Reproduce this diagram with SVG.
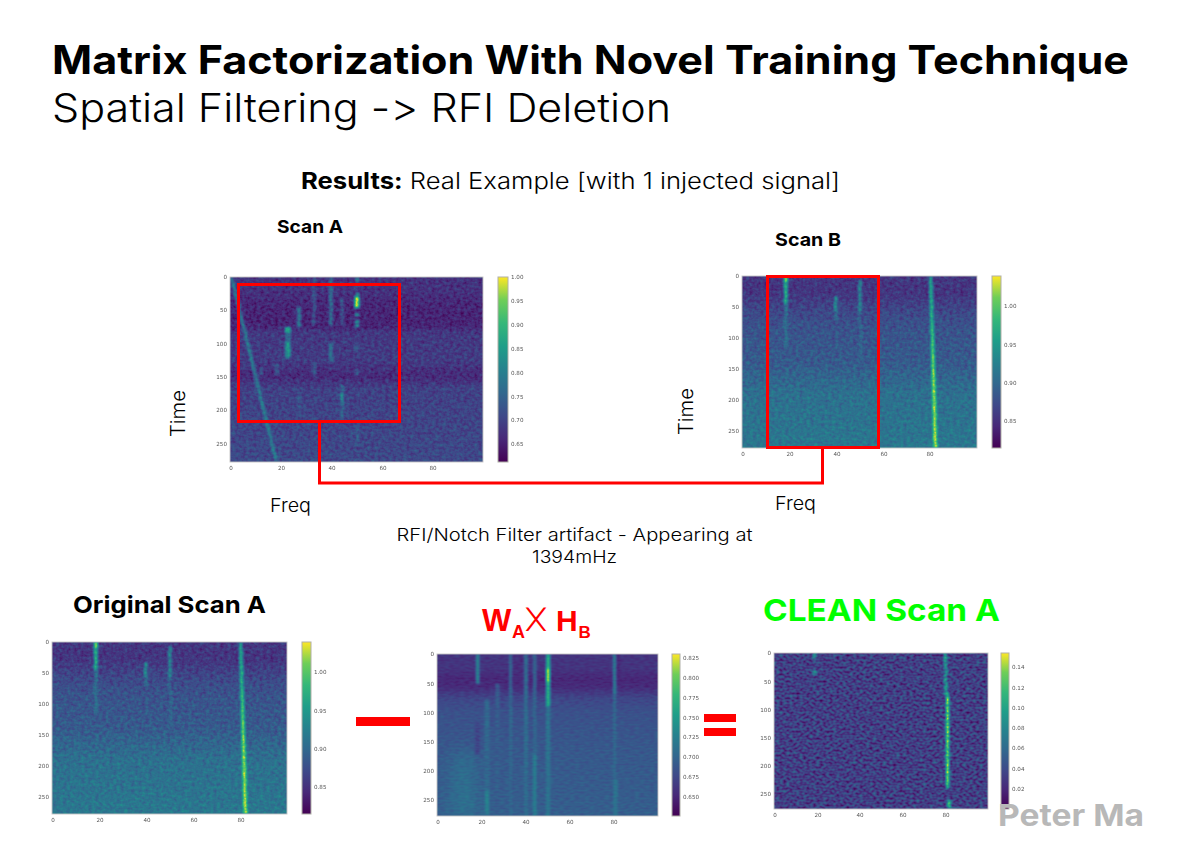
<svg xmlns="http://www.w3.org/2000/svg" xmlns:xlink="http://www.w3.org/1999/xlink" width="1184" height="846" viewBox="0 0 1184 846">
<style>
text{font-family:"Inter","Liberation Sans",sans-serif;fill:#000;font-variant-ligatures:none;font-feature-settings:"calt" 0,"liga" 0}
.b{font-weight:700}
.n{font-weight:300}
.t text{font-family:"DejaVu Sans","Liberation Sans",sans-serif;font-size:5.6px;fill:#555}
.xt{text-anchor:middle}
.yt{text-anchor:end}
.frame{fill:none;stroke:#c4c4c4;stroke-width:.9}
.cb{fill:url(#viridis);stroke:#b0b0a8;stroke-width:1}
.red{fill:none;stroke:#f00;stroke-width:3}
.bar{fill:#f00}
.wh{font-family:"Liberation Sans",Arial,sans-serif;font-weight:700;fill:#f00}
</style>
<defs>
<linearGradient id="viridis" x1="0" y1="1" x2="0" y2="0">
<stop offset="0" stop-color="#440154"/><stop offset=".125" stop-color="#482878"/><stop offset=".25" stop-color="#3e4989"/><stop offset=".375" stop-color="#31688e"/><stop offset=".5" stop-color="#26828e"/><stop offset=".625" stop-color="#1f9e89"/><stop offset=".75" stop-color="#35b779"/><stop offset=".875" stop-color="#6ece58"/><stop offset="1" stop-color="#fde725"/>
</linearGradient>
<linearGradient id="gA" x1="0" y1="0" x2="0" y2="1">
<stop offset="0" stop-color="#2b2b2b"/><stop offset=".08" stop-color="#292929"/><stop offset=".14" stop-color="#202020"/><stop offset=".22" stop-color="#1d1d1d"/><stop offset=".27" stop-color="#1f1f1f"/><stop offset=".3" stop-color="#303030"/><stop offset=".45" stop-color="#333"/><stop offset=".49" stop-color="#2b2b2b"/><stop offset=".53" stop-color="#222"/><stop offset=".57" stop-color="#2c2c2c"/><stop offset=".6" stop-color="#383838"/><stop offset="1" stop-color="#404040"/>
</linearGradient>
<linearGradient id="gB" x1="0" y1="0" x2="0" y2="1">
<stop offset="0" stop-color="#2f2f2f"/><stop offset=".1" stop-color="#2d2d2d"/><stop offset=".2" stop-color="#3e3e3e"/><stop offset=".3" stop-color="#4a4a4a"/><stop offset=".5" stop-color="#525252"/><stop offset=".68" stop-color="#696969"/><stop offset="1" stop-color="#727272"/>
</linearGradient>
<linearGradient id="gW" x1="0" y1="0" x2="0" y2="1">
<stop offset="0" stop-color="#2c2c2c"/><stop offset=".09" stop-color="#2c2c2c"/><stop offset=".15" stop-color="#202020"/><stop offset=".2" stop-color="#222"/><stop offset=".27" stop-color="#3c3c3c"/><stop offset=".36" stop-color="#484848"/><stop offset=".6" stop-color="#505050"/><stop offset="1" stop-color="#565656"/>
</linearGradient>
<linearGradient id="gS" x1="0" y1="0" x2="0" y2="1">
<stop offset="0" stop-color="#a0a0a0"/><stop offset=".3" stop-color="#c0c0c0"/><stop offset=".55" stop-color="#ececec"/><stop offset="1" stop-color="#f4f4f4"/>
</linearGradient>
<filter id="soft" x="-5%" y="-20%" width="110%" height="140%"><feGaussianBlur stdDeviation=".22"/></filter>
<filter id="bl" x="-5%" y="-5%" width="110%" height="110%" color-interpolation-filters="sRGB"><feGaussianBlur stdDeviation="1"/></filter>
<filter id="bb" x="-50%" y="-50%" width="200%" height="200%" color-interpolation-filters="sRGB"><feGaussianBlur stdDeviation="8"/></filter>
<filter id="fScan" x="0" y="0" width="1" height="1" color-interpolation-filters="sRGB">
<feTurbulence type="fractalNoise" baseFrequency=".28 .34" numOctaves="2" seed="3" result="n"/>
<feColorMatrix in="n" type="matrix" values="1 0 0 0 0 1 0 0 0 0 1 0 0 0 0 0 0 0 0 1" result="g"/>
<feComposite in="SourceGraphic" in2="g" operator="arithmetic" k1="0" k2="1" k3=".3" k4="-.15"/>
<feGaussianBlur stdDeviation=".65"/>
<feComponentTransfer>
<feFuncR type="table" tableValues=".267 .282 .243 .192 .149 .122 .208 .431 .992"/>
<feFuncG type="table" tableValues=".004 .157 .286 .408 .510 .620 .718 .808 .906"/>
<feFuncB type="table" tableValues=".329 .471 .537 .557 .557 .537 .475 .345 .145"/>
</feComponentTransfer>
</filter>
<filter id="fWH" x="0" y="0" width="1" height="1" color-interpolation-filters="sRGB">
<feTurbulence type="fractalNoise" baseFrequency=".2 .5" numOctaves="1" seed="9" result="n"/>
<feColorMatrix in="n" type="matrix" values="1 0 0 0 0 1 0 0 0 0 1 0 0 0 0 0 0 0 0 1" result="g"/>
<feComposite in="SourceGraphic" in2="g" operator="arithmetic" k1="0" k2="1" k3=".14" k4="-.07"/>
<feGaussianBlur stdDeviation=".6"/>
<feComponentTransfer>
<feFuncR type="table" tableValues=".267 .282 .243 .192 .149 .122 .208 .431 .992"/>
<feFuncG type="table" tableValues=".004 .157 .286 .408 .510 .620 .718 .808 .906"/>
<feFuncB type="table" tableValues=".329 .471 .537 .557 .557 .537 .475 .345 .145"/>
</feComponentTransfer>
</filter>
<filter id="fClean" x="0" y="0" width="1" height="1" color-interpolation-filters="sRGB">
<feTurbulence type="fractalNoise" baseFrequency=".3 .42" numOctaves="1" seed="7" result="n"/>
<feColorMatrix in="n" type="matrix" values="1 0 0 0 0 1 0 0 0 0 1 0 0 0 0 0 0 0 0 1" result="g"/>
<feComposite in="SourceGraphic" in2="g" operator="arithmetic" k1="0" k2="1" k3=".6" k4="-.3"/>
<feGaussianBlur stdDeviation=".55"/>
<feComponentTransfer>
<feFuncR type="table" tableValues=".267 .282 .243 .192 .149 .122 .208 .431 .992"/>
<feFuncG type="table" tableValues=".004 .157 .286 .408 .510 .620 .718 .808 .906"/>
<feFuncB type="table" tableValues=".329 .471 .537 .557 .557 .537 .475 .345 .145"/>
</feComponentTransfer>
</filter>
<g id="heatB" filter="url(#fScan)">
<rect x="742" y="276" width="235" height="172" fill="url(#gB)"/>
<g filter="url(#bl)">
<polygon points="929,276 932.4,276 937.5,448 933.5,448" fill="url(#gS)"/>
<rect x="783.8" y="276" width="4" height="6" fill="#e0e0e0"/>
<rect x="784" y="282" width="3.6" height="22" fill="#b5b5b5"/>
<rect x="784.5" y="304" width="3" height="44" fill="#707070"/>
<rect x="834" y="296" width="3.4" height="15" fill="#8c8c8c"/>
<rect x="834.5" y="311" width="3" height="10" fill="#666"/>
<rect x="858.5" y="280" width="3" height="32" fill="#8c8c8c"/>
<rect x="858.8" y="312" width="2.6" height="46" fill="#606060"/>
</g>
</g>
</defs>

<g id="title">
<text class="b" x="52" y="74" font-size="39" textLength="1077" lengthAdjust="spacingAndGlyphs">Matrix Factorization With Novel Training Technique</text>
<text class="n" x="52" y="122" font-size="39" textLength="619" lengthAdjust="spacingAndGlyphs">Spatial Filtering -&gt; RFI Deletion</text>
<text x="301" y="189" font-size="22.5" textLength="539" lengthAdjust="spacingAndGlyphs"><tspan class="b">Results:</tspan><tspan class="n"> Real Example [with 1 injected signal]</tspan></text>
</g>

<g id="scan-a">
<text class="b" x="277" y="233" font-size="18" textLength="66" lengthAdjust="spacingAndGlyphs">Scan A</text>
<g filter="url(#fScan)">
<rect x="230" y="277" width="253" height="185" fill="url(#gA)"/>
<g filter="url(#bl)">
<polygon points="230,277 233,277 278,462 275,462" fill="#808080"/>
<rect x="355.5" y="277" width="3" height="5" fill="#808080"/>
<rect x="356" y="282" width="2.4" height="11" fill="#404040"/>
<rect x="355.5" y="293" width="3.2" height="4" fill="#909090"/>
<rect x="354.6" y="297" width="4.8" height="11" fill="#ffffff"/>
<rect x="355" y="313.5" width="4" height="2.4" fill="#aaa"/>
<rect x="355" y="320.5" width="4" height="2.6" fill="#b0b0b0"/>
<rect x="355" y="324.5" width="4" height="2.6" fill="#b0b0b0"/>
<rect x="355.5" y="343" width="3" height="9" fill="#555"/>
<rect x="355.5" y="369" width="3" height="6" fill="#606060"/>
<rect x="355.5" y="425" width="3" height="20" fill="#555"/>
<rect x="312.5" y="277" width="3" height="49" fill="#505050"/>
<rect x="312.5" y="363" width="3" height="13" fill="#555"/>
<rect x="329" y="277" width="4" height="49" fill="#626262"/>
<rect x="329" y="343" width="4" height="19" fill="#666"/>
<rect x="340.5" y="298" width="3" height="27" fill="#525252"/>
<rect x="340.5" y="385" width="3" height="35" fill="#666"/>
<rect x="340.5" y="393" width="3.2" height="9" fill="#8c8c8c"/>
<rect x="297" y="307" width="4" height="21" fill="#6e6e6e"/>
<rect x="297.5" y="393" width="3" height="22" fill="#505050"/>
<rect x="285" y="327" width="5.4" height="6" fill="#b0b0b0"/>
<rect x="285.5" y="333" width="4.6" height="9" fill="#626262"/>
<rect x="285.3" y="342" width="5" height="16" fill="#a0a0a0"/>
<rect x="259.5" y="368" width="3" height="7" fill="#555"/>
<rect x="274.5" y="363" width="5" height="12" fill="#4a4a4a"/>
</g>
</g>
<rect class="frame" x="230" y="277" width="253" height="185"/>
<rect class="cb" x="498" y="277" width="10" height="185"/>
<g class="t" filter="url(#soft)">
<text class="xt" x="231" y="470">0</text><text class="xt" x="281.6" y="470">20</text><text class="xt" x="332" y="470">40</text><text class="xt" x="383" y="470">60</text><text class="xt" x="433" y="470">80</text>
<text class="yt" x="227" y="279">0</text><text class="yt" x="227" y="312">50</text><text class="yt" x="227" y="346">100</text><text class="yt" x="227" y="379">150</text><text class="yt" x="227" y="412">200</text><text class="yt" x="227" y="446">250</text>
<text x="511" y="279">1.00</text><text x="511" y="303">0.95</text><text x="511" y="327">0.90</text><text x="511" y="351">0.85</text><text x="511" y="375">0.80</text><text x="511" y="399">0.75</text><text x="511" y="422">0.70</text><text x="511" y="446">0.65</text>
</g>
<text class="n" transform="translate(185 437) rotate(-90)" font-size="20" textLength="47" lengthAdjust="spacingAndGlyphs">Time</text>
<text class="n" x="270" y="512" font-size="18.5" textLength="41" lengthAdjust="spacingAndGlyphs">Freq</text>
<rect class="red" x="238.5" y="284.5" width="161" height="137"/>
</g>

<g id="scan-b">
<text class="b" x="775" y="246" font-size="18" textLength="66" lengthAdjust="spacingAndGlyphs">Scan B</text>
<use href="#heatB" xlink:href="#heatB"/>
<rect class="frame" x="742" y="276" width="235" height="172"/>
<rect class="cb" x="992" y="276" width="9" height="172"/>
<g class="t" filter="url(#soft)">
<text class="xt" x="743" y="456">0</text><text class="xt" x="790" y="456">20</text><text class="xt" x="837" y="456">40</text><text class="xt" x="884" y="456">60</text><text class="xt" x="930" y="456">80</text>
<text class="yt" x="739" y="278">0</text><text class="yt" x="739" y="309">50</text><text class="yt" x="739" y="340">100</text><text class="yt" x="739" y="371">150</text><text class="yt" x="739" y="402">200</text><text class="yt" x="739" y="433">250</text>
<text x="1004" y="308">1.00</text><text x="1004" y="347">0.95</text><text x="1004" y="385">0.90</text><text x="1004" y="423">0.85</text>
</g>
<text class="n" transform="translate(693 435) rotate(-90)" font-size="20" textLength="47" lengthAdjust="spacingAndGlyphs">Time</text>
<text class="n" x="775" y="510" font-size="18.5" textLength="41" lengthAdjust="spacingAndGlyphs">Freq</text>
<rect class="red" x="767.5" y="276.5" width="111" height="171"/>
</g>

<g id="connectors">
<polyline class="red" points="319.5,422 319.5,483 822.5,483 822.5,448"/>
</g>

<g id="caption">
<text class="n" x="574.5" y="541" font-size="17.5" text-anchor="middle" textLength="356" lengthAdjust="spacingAndGlyphs">RFI/Notch Filter artifact - Appearing at</text>
<text class="n" x="574.5" y="563" font-size="17.5" text-anchor="middle" textLength="85" lengthAdjust="spacingAndGlyphs">1394mHz</text>
</g>

<g id="original-scan-a">
<text class="b" x="73" y="613" font-size="23.5" textLength="193" lengthAdjust="spacingAndGlyphs">Original Scan A</text>
<use href="#heatB" xlink:href="#heatB" transform="translate(-690 366)"/>
<rect class="frame" x="52" y="642" width="235" height="172"/>
<rect class="cb" x="302" y="642" width="9" height="172"/>
<g class="t" filter="url(#soft)">
<text class="xt" x="53" y="822">0</text><text class="xt" x="100" y="822">20</text><text class="xt" x="147" y="822">40</text><text class="xt" x="194" y="822">60</text><text class="xt" x="241" y="822">80</text>
<text class="yt" x="49" y="644">0</text><text class="yt" x="49" y="675">50</text><text class="yt" x="49" y="706">100</text><text class="yt" x="49" y="737">150</text><text class="yt" x="49" y="768">200</text><text class="yt" x="49" y="799">250</text>
<text x="314" y="674">1.00</text><text x="314" y="713">0.95</text><text x="314" y="751">0.90</text><text x="314" y="789">0.85</text>
</g>
</g>

<rect id="minus" class="bar" x="356" y="717" width="54" height="9"/>

<g id="wa-hb">
<text class="wh" font-size="31"><tspan x="482" y="631">W</tspan><tspan x="512" y="638" font-size="18">A</tspan></text>
<text x="527" y="626" font-size="20" textLength="18" lengthAdjust="spacingAndGlyphs" style="font-family:'DejaVu Sans',sans-serif;fill:#f00">╳</text>
<text class="wh" x="556" y="631" font-size="30">H</text>
<text class="wh" x="578.5" y="638" font-size="17">B</text>
<g filter="url(#fWH)">
<rect x="437" y="654" width="221" height="162" fill="url(#gW)"/>
<polygon points="451,816 453,755 472,750 478,816" fill="#808080" opacity=".5" filter="url(#bb)"/>
<g filter="url(#bl)">
<rect x="476" y="654" width="3.4" height="30" fill="#808080"/>
<rect x="475" y="722" width="5" height="32" fill="#3c3c3c"/>
<rect x="484.5" y="700" width="5" height="116" fill="#606060"/>
<rect x="485" y="790" width="4" height="24" fill="#7c7c7c"/>
<rect x="495.5" y="684" width="4" height="132" fill="#565656"/>
<rect x="509" y="654" width="3.4" height="162" fill="#5e5e5e"/>
<rect x="512" y="654" width="14" height="32" fill="#232323" opacity=".6"/>
<rect x="524" y="654" width="4" height="162" fill="#646464"/>
<rect x="533" y="654" width="3.4" height="100" fill="#5e5e5e"/>
<rect x="533" y="754" width="3.4" height="62" fill="#7a7a7a"/>
<rect x="546" y="654" width="4.2" height="162" fill="#6e6e6e"/>
<rect x="546" y="654" width="4.2" height="52" fill="#b0b0b0"/>
<rect x="546" y="668" width="4" height="14" fill="#f0f0f0"/>
<rect x="613" y="654" width="3.2" height="40" fill="#787878"/>
<rect x="613" y="694" width="3.2" height="122" fill="#606060"/>
<rect x="616.5" y="654" width="3.4" height="30" fill="#1f1f1f"/>
<rect x="613.5" y="780" width="4" height="36" fill="#6e6e6e"/>
</g>
</g>
<rect class="frame" x="437" y="654" width="221" height="162"/>
<rect class="cb" x="672" y="654" width="8" height="162"/>
<g class="t" filter="url(#soft)">
<text class="xt" x="438" y="824">0</text><text class="xt" x="482" y="824">20</text><text class="xt" x="526" y="824">40</text><text class="xt" x="570" y="824">60</text><text class="xt" x="614" y="824">80</text>
<text class="yt" x="434" y="656">0</text><text class="yt" x="434" y="686">50</text><text class="yt" x="434" y="715">100</text><text class="yt" x="434" y="744">150</text><text class="yt" x="434" y="773">200</text><text class="yt" x="434" y="802">250</text>
<text x="683" y="660">0.825</text><text x="683" y="680">0.800</text><text x="683" y="700">0.775</text><text x="683" y="720">0.750</text><text x="683" y="739">0.725</text><text x="683" y="759">0.700</text><text x="683" y="779">0.675</text><text x="683" y="799">0.650</text>
</g>
</g>

<g id="equals"><rect class="bar" x="704" y="714" width="32" height="8"/><rect class="bar" x="704" y="728" width="32" height="8"/></g>

<g id="clean-scan-a">
<text class="b" x="763" y="621" font-size="30" textLength="237" lengthAdjust="spacingAndGlyphs" style="fill:#0f0">CLEAN Scan A</text>
<g filter="url(#fClean)">
<rect x="774" y="653" width="214" height="156" fill="#363636"/>
<g filter="url(#bl)">
<rect x="812.5" y="653" width="4" height="6" fill="#8c8c8c"/>
<rect x="812.5" y="670" width="4" height="5" fill="#8c8c8c"/>
<rect x="944" y="653" width="3.4" height="30" fill="#949494"/>
<rect x="944.5" y="683" width="3.4" height="12" fill="#a0a0a0"/>
<rect x="946" y="695" width="3.2" height="90" fill="#f0f0f0"/>
<rect x="946" y="785" width="3.2" height="4" fill="#a0a0a0"/>
<rect x="947.5" y="800" width="3.6" height="9" fill="#c0c0c0"/>
</g>
</g>
<rect class="frame" x="774" y="653" width="214" height="156"/>
<rect class="cb" x="1001" y="653" width="8" height="156"/>
<g class="t" filter="url(#soft)">
<text class="xt" x="775" y="817">0</text><text class="xt" x="818" y="817">20</text><text class="xt" x="860" y="817">40</text><text class="xt" x="903" y="817">60</text><text class="xt" x="946" y="817">80</text>
<text class="yt" x="771" y="655">0</text><text class="yt" x="771" y="684">50</text><text class="yt" x="771" y="712">100</text><text class="yt" x="771" y="740">150</text><text class="yt" x="771" y="768">200</text><text class="yt" x="771" y="796">250</text>
<text x="1012" y="669">0.14</text><text x="1012" y="690">0.12</text><text x="1012" y="710">0.10</text><text x="1012" y="730">0.08</text><text x="1012" y="750">0.06</text><text x="1012" y="771">0.04</text><text x="1012" y="791">0.02</text>
</g>
</g>

<text id="credit" class="b" x="998" y="826" font-size="30" textLength="146" lengthAdjust="spacingAndGlyphs" style="fill:#b8b8b8">Peter Ma</text>
</svg>
